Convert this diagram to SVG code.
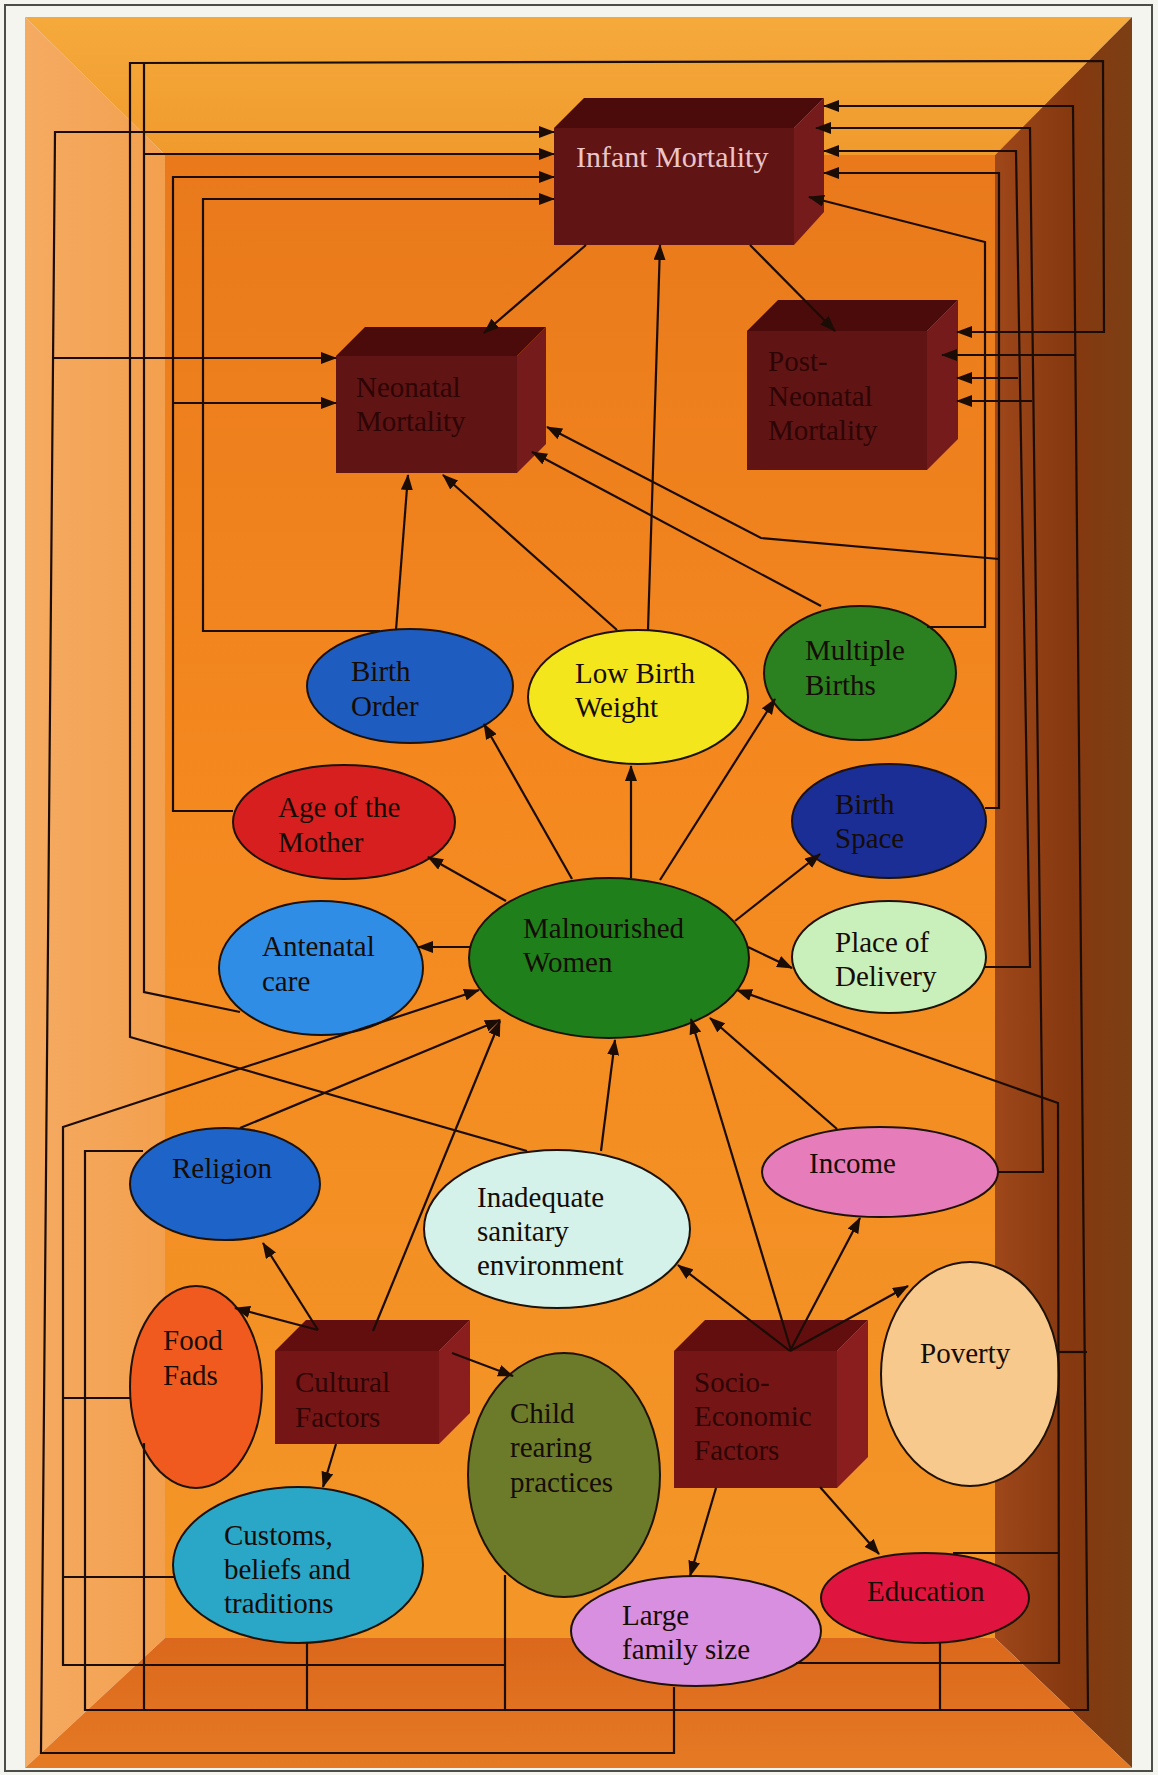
<svg xmlns="http://www.w3.org/2000/svg" width="1158" height="1775" viewBox="0 0 1158 1775">
<defs>
<style>
.lbl{font-family:"Liberation Serif","Times New Roman",serif;font-size:29px;fill:#160c06}
.blbl{font-family:"Liberation Serif","Times New Roman",serif;font-size:29px;fill:#2e0505}
.ilbl{font-family:"Liberation Serif","Times New Roman",serif;font-size:30px;fill:#ecc6c6}
.el{stroke:#1e1208;stroke-width:2}
.c{fill:none;stroke:#1c0c06;stroke-width:2.2;stroke-linejoin:miter}
.a{marker-end:url(#ah)}
.bt{fill:#4c0b0b}.bf{fill:#601414}.br{fill:#751b1b}
.ct{fill:#620e0e}.cf{fill:#751515}.cr{fill:#8a1d1d}
</style>
<marker id="ah" markerUnits="userSpaceOnUse" markerWidth="16" markerHeight="12" refX="15" refY="6" orient="auto">
<path d="M0,0 L16,6 L0,12 z" fill="#1c0c06"/>
</marker>
<linearGradient id="ceil" x1="0" y1="0" x2="0" y2="1"><stop offset="0" stop-color="#f6aa3c"/><stop offset="1" stop-color="#f09a2c"/></linearGradient>
<linearGradient id="lwall" x1="0" y1="0" x2="1" y2="0"><stop offset="0" stop-color="#f5ab62"/><stop offset="1" stop-color="#f3a04e"/></linearGradient>
<linearGradient id="rwall" x1="0" y1="0" x2="1" y2="0"><stop offset="0" stop-color="#9e471a"/><stop offset="0.55" stop-color="#86380f"/><stop offset="1" stop-color="#7c3f14"/></linearGradient>
<linearGradient id="floor" x1="0" y1="0" x2="0" y2="1"><stop offset="0" stop-color="#db681c"/><stop offset="1" stop-color="#e57a24"/></linearGradient>
<linearGradient id="back" x1="0" y1="0" x2="0" y2="1"><stop offset="0" stop-color="#e9791b"/><stop offset="0.4" stop-color="#f4881f"/><stop offset="1" stop-color="#f39628"/></linearGradient>
</defs>

<!-- page and frame -->
<rect x="0" y="0" width="1158" height="1775" fill="#f3f5ee"/>
<rect x="5" y="5" width="1147" height="1766" fill="none" stroke="#4a4d48" stroke-width="2"/>

<!-- room backdrop -->
<g id="backdrop">
<rect x="165" y="155" width="830" height="1483" fill="url(#back)"/>
<polygon points="25,17 1132,17 995,155 165,155" fill="url(#ceil)"/>
<polygon points="25,17 165,155 165,1638 25,1768" fill="url(#lwall)"/>
<polygon points="1132,17 995,155 995,1638 1132,1768" fill="url(#rwall)"/>
<polygon points="25,1768 165,1638 995,1638 1132,1768" fill="url(#floor)"/>
</g>

<!-- mortality boxes -->
<g id="infant-mortality">
<rect class="bf" x="554" y="128" width="240" height="117"/>
<polygon class="bt" points="554,128 584,98 824,98 794,128"/>
<polygon class="br" points="794,128 824,98 824,212 794,245"/>
<text class="ilbl" x="576" y="167">Infant Mortality</text>
</g>
<g id="neonatal-mortality">
<rect class="bf" x="336" y="356" width="181" height="117"/>
<polygon class="bt" points="336,356 365,327 546,327 517,356"/>
<polygon class="br" points="517,356 546,327 546,444 517,473"/>
<text class="blbl" x="356" y="397">Neonatal</text>
<text class="blbl" x="356" y="431">Mortality</text>
</g>
<g id="post-neonatal-mortality">
<rect class="bf" x="747" y="331" width="180" height="139"/>
<polygon class="bt" points="747,331 778,300 958,300 927,331"/>
<polygon class="br" points="927,331 958,300 958,439 927,470"/>
<text class="blbl" x="768" y="371">Post-</text>
<text class="blbl" x="768" y="406">Neonatal</text>
<text class="blbl" x="768" y="440">Mortality</text>
</g>

<!-- factor boxes -->
<g id="cultural-factors">
<rect class="cf" x="275" y="1351" width="164" height="93"/>
<polygon class="ct" points="275,1351 306,1320 470,1320 439,1351"/>
<polygon class="cr" points="439,1351 470,1320 470,1413 439,1444"/>
<text class="blbl" x="295" y="1392">Cultural</text>
<text class="blbl" x="295" y="1427">Factors</text>
</g>
<g id="socio-economic-factors">
<rect class="cf" x="674" y="1351" width="163" height="137"/>
<polygon class="ct" points="674,1351 705,1320 868,1320 837,1351"/>
<polygon class="cr" points="837,1351 868,1320 868,1457 837,1488"/>
<text class="blbl" x="694" y="1392">Socio-</text>
<text class="blbl" x="694" y="1426">Economic</text>
<text class="blbl" x="694" y="1460">Factors</text>
</g>

<!-- ellipse nodes -->
<g id="birth-order"><ellipse class="el" cx="410" cy="686" rx="103" ry="57" fill="#1f5cc0"/>
<text class="lbl" x="351" y="681">Birth</text><text class="lbl" x="351" y="716">Order</text></g>
<g id="low-birth-weight"><ellipse class="el" cx="638" cy="697" rx="110" ry="67" fill="#f4e61c"/>
<text class="lbl" x="575" y="683">Low Birth</text><text class="lbl" x="575" y="717">Weight</text></g>
<g id="multiple-births"><ellipse class="el" cx="860" cy="673" rx="96" ry="67" fill="#2b801f"/>
<text class="lbl" x="805" y="660">Multiple</text><text class="lbl" x="805" y="695">Births</text></g>
<g id="age-of-mother"><ellipse class="el" cx="344" cy="822" rx="111" ry="57" fill="#d81f1f"/>
<text class="lbl" x="278" y="817">Age of the</text><text class="lbl" x="278" y="852">Mother</text></g>
<g id="birth-space"><ellipse class="el" cx="889" cy="821" rx="97" ry="57" fill="#1b2e96"/>
<text class="lbl" x="835" y="814">Birth</text><text class="lbl" x="835" y="848">Space</text></g>
<g id="antenatal-care"><ellipse class="el" cx="321" cy="968" rx="102" ry="67" fill="#2f8de6"/>
<text class="lbl" x="262" y="956">Antenatal</text><text class="lbl" x="262" y="991">care</text></g>
<g id="malnourished-women"><ellipse class="el" cx="609" cy="958" rx="140" ry="80" fill="#1f7f1b"/>
<text class="lbl" x="523" y="938">Malnourished</text><text class="lbl" x="523" y="972">Women</text></g>
<g id="place-of-delivery"><ellipse class="el" cx="889" cy="957" rx="97" ry="56" fill="#c9f0ba"/>
<text class="lbl" x="835" y="952">Place of</text><text class="lbl" x="835" y="986">Delivery</text></g>
<g id="religion"><ellipse class="el" cx="225" cy="1184" rx="95" ry="56" fill="#1e64c8"/>
<text class="lbl" x="172" y="1178">Religion</text></g>
<g id="income"><ellipse class="el" cx="880" cy="1172" rx="118" ry="45" fill="#e67cb9"/>
<text class="lbl" x="809" y="1173">Income</text></g>
<g id="inadequate-sanitary-environment"><ellipse class="el" cx="557" cy="1229" rx="133" ry="79" fill="#d5f2ea"/>
<text class="lbl" x="477" y="1207">Inadequate</text><text class="lbl" x="477" y="1241">sanitary</text><text class="lbl" x="477" y="1275">environment</text></g>
<g id="food-fads"><ellipse class="el" cx="196" cy="1387" rx="66" ry="101" fill="#f05a1e"/>
<text class="lbl" x="163" y="1350">Food</text><text class="lbl" x="163" y="1385">Fads</text></g>
<g id="child-rearing-practices"><ellipse class="el" cx="564" cy="1475" rx="96" ry="122" fill="#6b7b29"/>
<text class="lbl" x="510" y="1423">Child</text><text class="lbl" x="510" y="1457">rearing</text><text class="lbl" x="510" y="1492">practices</text></g>
<g id="poverty"><ellipse class="el" cx="970" cy="1374" rx="89" ry="112" fill="#f7c98c"/>
<text class="lbl" x="920" y="1363">Poverty</text></g>
<g id="customs-beliefs-traditions"><ellipse class="el" cx="298" cy="1565" rx="125" ry="78" fill="#2aa6c7"/>
<text class="lbl" x="224" y="1545">Customs,</text><text class="lbl" x="224" y="1579">beliefs and</text><text class="lbl" x="224" y="1613">traditions</text></g>
<g id="large-family-size"><ellipse class="el" cx="696" cy="1631" rx="125" ry="55" fill="#d88fe0"/>
<text class="lbl" x="622" y="1625">Large</text><text class="lbl" x="622" y="1659">family size</text></g>
<g id="education"><ellipse class="el" cx="925" cy="1598" rx="104" ry="45" fill="#e0153f"/>
<text class="lbl" x="867" y="1601">Education</text></g>

<!-- connectors -->
<g id="connectors">
<!-- left-hand routes into the mortality boxes -->
<path class="c a" d="M674,1687 L674,1753 L41,1753 L55,132 L554,132"/>
<path class="c a" d="M53,358 L336,358"/>
<path class="c a" d="M527,1151 L130,1037 L130,63 L1103,61 L1104,332 L957,332"/>
<path class="c" d="M240,1012 L144,992 L144,63"/>
<path class="c a" d="M144,154 L554,154"/>
<path class="c a" d="M233,811 L173,811 L173,177 L554,177"/>
<path class="c a" d="M173,403 L336,403"/>
<path class="c a" d="M380,631 L203,631 L203,199 L554,199"/>
<!-- cultural cluster back into malnourished women -->
<path class="c" d="M505,1575 L505,1710"/>
<path class="c a" d="M505,1665 L63,1665 L63,1127 L479,990"/>
<path class="c" d="M130,1398 L63,1398"/>
<path class="c" d="M175,1577 L63,1577"/>
<!-- long bottom route to infant and post-neonatal mortality -->
<path class="c a" d="M143,1151 L85,1151 L85,1710 L1088,1710 L1073,106 L824,106"/>
<path class="c a" d="M1075,355 L942,355"/>
<path class="c" d="M1058,1352 L1087,1352"/>
<path class="c" d="M144,1443 L144,1710"/>
<path class="c" d="M307,1643 L307,1710"/>
<path class="c" d="M940,1643 L940,1710"/>
<!-- right-hand routes -->
<path class="c" d="M953,1553 L1059,1553"/>
<path class="c a" d="M796,1663 L1059,1663 L1058,1103 L737,990"/>
<path class="c a" d="M998,1172 L1043,1172 L1030,128 L816,128"/>
<path class="c a" d="M1032,401 L957,401"/>
<path class="c a" d="M985,967 L1030,967 L1016,151 L824,151"/>
<path class="c a" d="M1018,378 L957,378"/>
<path class="c a" d="M985,808 L999,808 L999,173 L824,173"/>
<path class="c a" d="M999,559 L761,538 L547,427"/>
<path class="c a" d="M927,627 L985,627 L985,242 L809,197"/>
<!-- direct links among mortality boxes and outcomes -->
<path class="c a" d="M586,245 L484,333"/>
<path class="c a" d="M750,245 L835,331"/>
<path class="c a" d="M396,630 L408,475"/>
<path class="c a" d="M617,630 L443,475"/>
<path class="c a" d="M648,630 L660,245"/>
<path class="c a" d="M821,606 L532,452"/>
<!-- out of malnourished women -->
<path class="c a" d="M470,947 L418,947"/>
<path class="c a" d="M506,901 L428,857"/>
<path class="c a" d="M572,879 L484,724"/>
<path class="c a" d="M631,878 L631,766"/>
<path class="c a" d="M660,880 L775,699"/>
<path class="c a" d="M735,921 L820,854"/>
<path class="c a" d="M748,947 L792,968"/>
<!-- into malnourished women -->
<path class="c a" d="M240,1128 L500,1020"/>
<path class="c a" d="M373,1331 L500,1021"/>
<path class="c a" d="M601,1151 L615,1040"/>
<path class="c a" d="M791,1350 L691,1019"/>
<path class="c a" d="M837,1129 L710,1018"/>
<!-- out of cultural factors -->
<path class="c a" d="M318,1330 L263,1243"/>
<path class="c a" d="M318,1330 L235,1308"/>
<path class="c a" d="M452,1353 L513,1376"/>
<path class="c a" d="M336,1444 L323,1487"/>
<!-- out of socio-economic factors -->
<path class="c a" d="M790,1351 L678,1265"/>
<path class="c a" d="M790,1351 L860,1218"/>
<path class="c a" d="M790,1351 L908,1286"/>
<path class="c a" d="M716,1488 L690,1576"/>
<path class="c a" d="M820,1487 L879,1554"/>
</g>
</svg>
